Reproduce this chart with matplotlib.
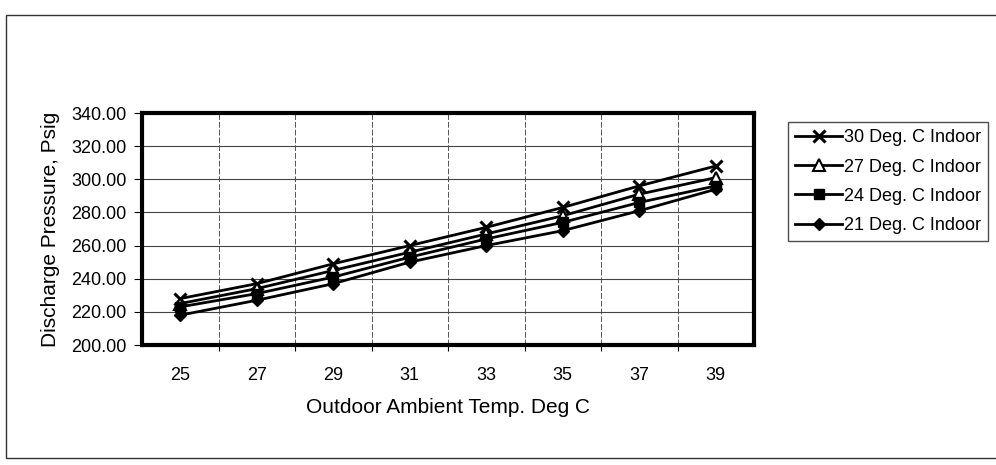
import matplotlib
matplotlib.use("Agg")
import matplotlib.pyplot as plt
from matplotlib.patches import Rectangle

plt.rcParams["font.family"] = ["Liberation Sans", "DejaVu Sans"]

# outdoor ambient temperature categories (deg C)
outdoor_temps = ["25", "27", "29", "31", "33", "35", "37", "39"]

# discharge pressure, psig, per indoor temperature
p_30 = [228, 237, 249, 260, 271, 283, 296, 308]
p_27 = [225, 234, 245, 256, 267, 278, 291, 301]
p_24 = [223, 231, 241, 253, 264, 274, 286, 296]
p_21 = [218, 227, 237, 250, 260, 269, 281, 294]

series = [
    ("30 Deg. C Indoor", p_30, dict(marker="x", markersize=9, markeredgewidth=2.2,
                                    color="black")),
    ("27 Deg. C Indoor", p_27, dict(marker="^", markersize=8, markeredgewidth=1.5,
                                    markerfacecolor="white", color="black")),
    ("24 Deg. C Indoor", p_24, dict(marker="s", markersize=7, color="black")),
    ("21 Deg. C Indoor", p_21, dict(marker="D", markersize=6.5, color="black")),
]

fig = plt.figure(figsize=(9.96, 4.65), dpi=100)

# outer chart border
fig.patches.append(Rectangle((6 / 996, 1 - 458 / 465), 1.2, (458 - 15) / 465,
                             transform=fig.transFigure, fill=False,
                             edgecolor="#333333", linewidth=1.0))

ax = fig.add_axes([142 / 996, 1 - 345 / 465, 612 / 996, 232 / 465])
x = list(range(len(outdoor_temps)))
for label, vals, style in series:
    ax.plot(x, vals, linewidth=2.0, label=label, **style)

ax.set_xlim(-0.5, len(outdoor_temps) - 0.5)
ax.set_ylim(200, 340)
ax.set_yticks(range(200, 341, 20))
ax.set_yticklabels([f"{v:.2f}" for v in range(200, 341, 20)])
ax.set_xticks(x)
ax.set_xticklabels(outdoor_temps)
ax.set_xticks([i + 0.5 for i in x[:-1]], minor=True)
ax.tick_params(axis="x", which="major", length=0, pad=16, labelsize=13)
ax.tick_params(axis="x", which="minor", length=4, width=0.8, direction="out")
ax.tick_params(axis="y", which="major", length=6, width=0.8, labelsize=13, pad=5)

ax.grid(True, axis="y", which="major", color="#444444", linewidth=0.8)
ax.grid(True, axis="x", which="minor", color="#555555", linewidth=0.7,
        linestyle=(0, (6, 2)))
ax.set_axisbelow(True)
for sp in ax.spines.values():
    sp.set_linewidth(3.0)

ax.set_xlabel("Outdoor Ambient Temp. Deg C", fontsize=15, labelpad=10)
ax.set_ylabel("Discharge Pressure, Psig", fontsize=15, labelpad=8)

leg = ax.legend(loc="upper left", bbox_to_anchor=(788 / 996, 1 - 122 / 465),
                bbox_transform=fig.transFigure, fontsize=13, frameon=True,
                fancybox=False, edgecolor="#222222", handlelength=2.6,
                handletextpad=0.1, labelspacing=0.68, borderpad=0.4,
                borderaxespad=0)
leg.get_frame().set_linewidth(1.0)

fig.savefig("out.png", dpi=100, facecolor="white")
